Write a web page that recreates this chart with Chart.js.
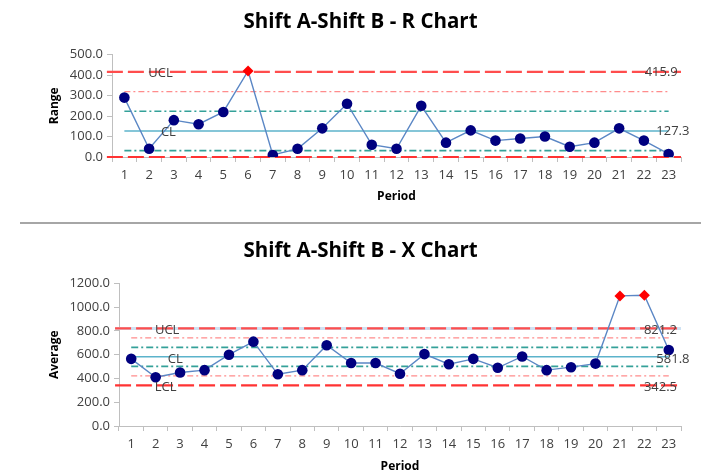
<!DOCTYPE html>
<html><head><meta charset="utf-8">
<script src="https://cdn.jsdelivr.net/npm/chart.js@4"></script>
<style>
html,body{margin:0;padding:0;background:#fff;overflow:hidden;width:701px;height:472px}
#c1{position:absolute;left:0;top:0}
#c2{position:absolute;left:0;top:230px}
#sep{position:absolute;left:20px;top:222px;width:681px;height:2px;background:#a6a6a6}
</style></head><body>
<canvas id="c1" width="701" height="215"></canvas>
<div id="sep"></div>
<canvas id="c2" width="701" height="260"></canvas>
<script>
// ---- data ----
const periods = ['1','2','3','4','5','6','7','8','9','10','11','12','13','14','15','16','17','18','19','20','21','22','23'];
const rangeValues = [290,40,180,160,220,420,10,40,140,260,60,40,250,70,130,80,90,100,50,70,140,80,15];
const averageValues = [565,410,450,470,600,710,435,470,680,530,530,440,605,520,565,490,585,470,495,525,1095,1100,640];
const rLimits = {UCL:415.9, CL:127.3, LCL:0};
const rZone2 = [319.7];
const rZone1 = [223.5, 31.1];
const xLimits = {UCL:821.2, CL:581.8, LCL:342.5};
const xZone2 = [741.4, 422.2];
const xZone1 = [661.6, 502.0];
const rTitle = 'Shift A-Shift B - R Chart';
const xTitle = 'Shift A-Shift B - X Chart';

const FONT = "'Open Sans', 'DejaVu Sans', sans-serif";
const AXIS_GRAY = '#bfbfbf';
const TEXT = '#404040';

function labelPlugin(items){
  return {
    id:'lineLabels',
    afterDatasetsDraw(chart){
      const {ctx, scales:{x, y}} = chart;
      ctx.save();
      ctx.font = "13px " + FONT;
      ctx.fillStyle = TEXT;
      ctx.textAlign = 'center';
      ctx.textBaseline = 'middle';
      items.forEach(it => ctx.fillText(it.text, x.getPixelForValue(it.at), y.getPixelForValue(it.value) + it.dy));
      ctx.restore();
    }
  };
}

function constLine(v, color, width, dash){
  return {data: periods.map(() => v), borderColor: color, borderWidth: width, borderDash: dash,
          pointRadius: 0, fill: false, tension: 0};
}
function fullLine(v, color, width, dash, x0){
  return {data: [{x:x0, y:v}, {x:1, y:v}], xAxisID:'x2', borderColor: color, borderWidth: width,
          borderDash: dash, pointRadius: 0, fill: false, clip: false};
}

function makeChart(id, cfg){
  const flagged = cfg.values.map(v => v > cfg.limits.UCL);
  const datasets = [
    {data: cfg.values, borderColor:'#5b87c5', borderWidth:1.4, tension:0,
     pointStyle: flagged.map(f => f ? 'rectRot' : 'circle'),
     pointRadius: flagged.map(f => f ? 5.5 : 5.3),
     pointBackgroundColor: flagged.map(f => f ? '#ff0000' : '#00007f'),
     pointBorderColor: flagged.map(f => f ? '#ff0000' : '#00007f'),
     pointBorderWidth: 0},
    constLine(cfg.limits.CL, '#5cb3cb', 1.5, []),
    ...cfg.zone1.map(v => constLine(v, '#34a199', 1.6, [7,3,2,3])),
    ...cfg.zone2.map(v => constLine(v, '#ff8c8c', 1.2, [6,3,2,3])),
    fullLine(cfg.limits.UCL, '#ff4d4d', 2.2, [16,5], cfg.x0),
    fullLine(cfg.limits.LCL, '#ff3333', 2.2, [16,5], cfg.x0)
  ];
  if (cfg.halo) datasets.push(fullLine(cfg.limits.UCL, '#cfe2f3', 3, [], cfg.x0));
  return new Chart(document.getElementById(id), {
    type:'line',
    data:{labels: periods, datasets},
    options:{
      responsive:false, animation:false, events:[], devicePixelRatio:1,
      layout:{padding:{left:20, right:0, top:0, bottom:0}},
      plugins:{
        legend:{display:false}, tooltip:{enabled:false},
        title:{display:true, text: cfg.title, color:'#000',
               font:{family:FONT, size:20.5, weight:'bold'},
               padding:{top: cfg.titlePadTop, bottom: cfg.titlePadBottom}}
      },
      scales:{
        x:{type:'category', offset:true,
           grid:{offset:true, drawOnChartArea:false, tickLength:5, color:AXIS_GRAY},
           border:{color:AXIS_GRAY, width:1},
           ticks:{color:TEXT, padding:5, maxRotation:0, autoSkip:false, font:{family:FONT, size:13}},
           title:{display:true, text:'Period', color:'#000', font:{family:FONT, size:12, weight:'bold'},
                  padding:{top:0, bottom: cfg.xTitlePad}},
           afterFit: s => { s.height = cfg.xAxisH; }},
        x2:{type:'linear', display:false, min:0, max:1},
        y:{min:0, max:cfg.yMax,
           grid:{drawOnChartArea:false, tickLength:5, color:AXIS_GRAY},
           border:{color:AXIS_GRAY, width:1},
           ticks:{stepSize:cfg.yStep, color:TEXT, padding:4, font:{family:FONT, size:13},
                  callback: v => Number(v).toFixed(1)},
           title:{display:true, text:cfg.yLabel, color:'#000', font:{family:FONT, size:12, weight:'bold'},
                  padding:{top: cfg.yTitlePad, bottom:0}},
           afterFit: s => { s.width = cfg.yAxisW; }},
        yr:{position:'right', display:true, grid:{display:false}, border:{display:false},
            ticks:{display:false}, afterFit: s => { s.width = 20; }}
      }
    },
    plugins:[labelPlugin(cfg.labels)]
  });
}

makeChart('c1', {
  title: rTitle, values: rangeValues, limits: rLimits, zone1: rZone1, zone2: rZone2, x0:-0.009,
  yMax:500, yStep:100, yLabel:'Range',
  titlePadTop:10, titlePadBottom:20, xAxisH:58, xTitlePad:11, yAxisW:92, yTitlePad:27,
  labels:[
    {text:'UCL', at:1.46, value:rLimits.UCL, dy:1},
    {text:'CL', at:1.78, value:rLimits.CL, dy:1.5},
    {text:rLimits.UCL.toFixed(1), at:21.7, value:rLimits.UCL, dy:0},
    {text:rLimits.CL.toFixed(1), at:22.17, value:rLimits.CL, dy:0}
  ]
});

makeChart('c2', {
  title: xTitle, values: averageValues, limits: xLimits, zone1: xZone1, zone2: xZone2, halo:true, x0:-0.007,
  yMax:1200, yStep:200, yLabel:'Average',
  titlePadTop:8.4, titlePadBottom:20.4, xAxisH:64, xTitlePad:16, yAxisW:99, yTitlePad:27,
  labels:[
    {text:'UCL', at:1.47, value:xLimits.UCL, dy:1.7},
    {text:'CL', at:1.8, value:xLimits.CL, dy:2},
    {text:'LCL', at:1.41, value:xLimits.LCL, dy:2},
    {text:xLimits.UCL.toFixed(1), at:21.66, value:xLimits.UCL, dy:1.7},
    {text:xLimits.CL.toFixed(1), at:22.17, value:xLimits.CL, dy:2},
    {text:xLimits.LCL.toFixed(1), at:21.66, value:xLimits.LCL, dy:2}
  ]
});
</script>
</body></html>
